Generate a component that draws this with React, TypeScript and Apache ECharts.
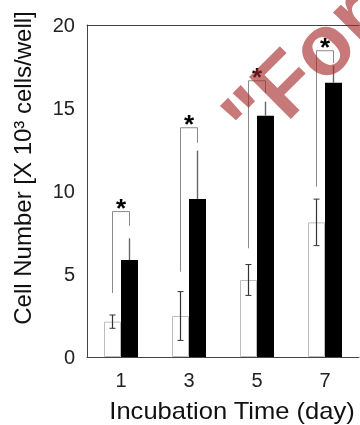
import React, { useEffect, useRef } from "react";
import * as echarts from "echarts";

const categories = ["1", "3", "5", "7"];
const controlMean = [2.13, 2.47, 4.64, 8.11];
const controlSD = [0.4, 1.47, 0.93, 1.4];
const treatedMean = [5.84, 9.52, 14.54, 16.52];
const treatedSD = [1.31, 2.91, 0.84, 1.03];
const bracketTop = [8.76, 13.81, 16.64, 18.45];
const bracketLeftEnd = [3.85, 5.14, 6.55, 10.26];
const bracketRightEnd = [7.9, 12.9, 15.9, 17.7];
const starLabel = ["*", "*", "*", "*"];
const yTitle = "Cell Number [X 10³ cells/well]";
const xTitle = "Incubation Time (day)";
const watermark = "\"For";

const FONT = "'Liberation Sans', Arial, Helvetica, sans-serif";
const HALF = 8.5;

export default function App() {
  const ref = useRef<HTMLDivElement>(null);
  useEffect(() => {
    if (!ref.current) return;
    const chart = echarts.init(ref.current, null, { renderer: "svg" });
    const errData: number[][] = [];
    categories.forEach((_, i) => {
      errData.push([i, controlMean[i], controlSD[i], -HALF, 1]);
      errData.push([i, treatedMean[i], treatedSD[i], HALF, 0]);
    });
    const brData = categories.map((_, i) => [i, bracketTop[i], bracketLeftEnd[i], bracketRightEnd[i]]);
    chart.setOption({
      animation: false,
      grid: { left: 87, right: 1, top: 25, bottom: 68 },
      xAxis: [
        {
          type: "category",
          data: categories,
          axisLine: { lineStyle: { color: "#444", width: 1 } },
          axisTick: { show: false },
          axisLabel: { color: "#222", fontSize: 20, fontFamily: FONT, margin: 13 },
        },
        {
          type: "category",
          data: categories,
          position: "top",
          axisLine: { lineStyle: { color: "#444", width: 1 } },
          axisTick: { show: false },
          axisLabel: { show: false },
        },
      ],
      yAxis: {
        type: "value",
        min: 0,
        max: 20,
        interval: 5,
        splitLine: { show: false },
        axisLine: { show: true, lineStyle: { color: "#444", width: 1 } },
        axisTick: { show: false },
        axisLabel: { color: "#222", fontSize: 20, fontFamily: FONT, margin: 12 },
      },
      series: [
        {
          type: "bar",
          data: controlMean,
          barWidth: 17,
          barGap: "0%",
          itemStyle: { color: "#fff", borderColor: "#bdbdbd", borderWidth: 1 },
        },
        {
          type: "bar",
          data: treatedMean,
          barWidth: 17,
          barGap: "0%",
          itemStyle: { color: "#000" },
        },
        {
          type: "custom",
          data: errData,
          z: 5,
          renderItem: (params: any, api: any) => {
            const i = api.value(0);
            const m = api.value(1);
            const sd = api.value(2);
            const off = api.value(3);
            const both = api.value(4);
            const top = api.coord([i, m + sd]);
            const bot = api.coord([i, both ? m - sd : m]);
            const x = top[0] + off;
            const color = both ? "#333" : "#666";
            const cap = both ? 3 : 0;
            const lw = both ? 1.2 : 1.4;
            const children: any[] = [
              { type: "line", shape: { x1: x, y1: top[1], x2: x, y2: bot[1] }, style: { stroke: color, lineWidth: lw } },
            ];
            if (cap) {
              children.push({ type: "line", shape: { x1: x - cap, y1: top[1], x2: x + cap, y2: top[1] }, style: { stroke: color, lineWidth: 1 } });
              children.push({ type: "line", shape: { x1: x - cap, y1: bot[1], x2: x + cap, y2: bot[1] }, style: { stroke: color, lineWidth: 1 } });
            }
            return { type: "group", children };
          },
        },
        {
          type: "custom",
          data: brData,
          z: 6,
          renderItem: (params: any, api: any) => {
            const i = api.value(0);
            const t = api.coord([i, api.value(1)]);
            const l = api.coord([i, api.value(2)]);
            const r = api.coord([i, api.value(3)]);
            const xl = t[0] - HALF;
            const xr = t[0] + HALF;
            return {
              type: "group",
              children: [
                {
                  type: "polyline",
                  shape: { points: [[xl, l[1]], [xl, t[1]], [xr, t[1]], [xr, r[1]]] },
                  style: { stroke: "#8a8a8a", lineWidth: 1, fill: "none" },
                },
                {
                  type: "text",
                  x: t[0],
                  y: t[1] - 17,
                  style: {
                    text: starLabel[params.dataIndex],
                    fontSize: 26,
                    fontWeight: "bold",
                    fontFamily: FONT,
                    fill: "#000",
                    align: "center",
                    verticalAlign: "top",
                  },
                },
              ],
            };
          },
        },
      ],
      graphic: [
        {
          type: "text",
          x: 22,
          y: 168,
          rotation: Math.PI / 2,
          style: {
            text: yTitle,
            fontSize: 24,
            fontFamily: FONT,
            fill: "#111",
            align: "center",
            verticalAlign: "middle",
          },
          z: 10,
        },
        {
          type: "text",
          x: 232,
          y: 411,
          scaleX: 1.11,
          style: {
            text: xTitle,
            fontSize: 23,
            fontFamily: FONT,
            fill: "#111",
            align: "center",
            verticalAlign: "middle",
          },
          z: 10,
        },
        {
          type: "text",
          x: 267,
          y: 161,
          rotation: Math.PI / 4,
          style: {
            text: watermark,
            fontSize: 86,
            fontWeight: "bold",
            fontFamily: FONT,
            fill: "rgba(165,38,38,0.62)",
            align: "left",
            verticalAlign: "bottom",
          },
          z: 100,
        },
      ],
    });
    return () => chart.dispose();
  }, []);
  return <div ref={ref} style={{ position: "fixed", left: 0, top: 0, width: 360, height: 425 }} />;
}
